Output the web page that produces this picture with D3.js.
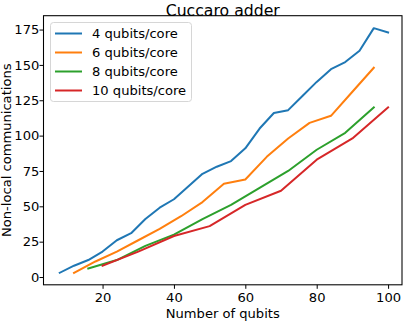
<!DOCTYPE html>
<html>
<head>
<meta charset="utf-8">
<script src="https://cdn.jsdelivr.net/npm/d3@7"></script>
<style>
  body { margin: 0; background: #fff; }
  svg { display: block; font-family: "DejaVu Sans", sans-serif; }
</style>
</head>
<body>
<svg id="chart" width="407" height="323"></svg>
<script>
// data
var q4x = [8, 12, 16, 20, 24, 28, 32, 36, 40, 44, 48, 52, 56, 60, 64, 68, 72, 76, 80, 84, 88, 92, 96, 100];
var q4y = [3, 8, 12, 18, 26, 31, 41, 49, 55, 64, 73, 78, 82, 91, 105, 116, 118, 128, 138, 147, 152, 160, 176, 173];
var q6x = [12, 18, 24, 30, 36, 42, 48, 54, 60, 66, 72, 78, 84, 90, 96];
var q6y = [3, 11, 18, 26, 34, 43, 53, 66, 69, 85, 98, 109, 114, 131, 148];
var q8x = [16, 24, 32, 40, 48, 56, 64, 72, 80, 88, 96];
var q8y = [6, 12, 22, 30, 41, 51, 63, 75, 90, 102, 120];
var q10x = [20, 30, 40, 50, 60, 70, 80, 90, 100];
var q10y = [8, 18, 29, 36, 51, 61, 83, 98, 120];

var seriesNames = ["4 qubits/core", "6 qubits/core", "8 qubits/core", "10 qubits/core"];
var colors = ["#1f77b4", "#ff7f0e", "#2ca02c", "#d62728"];
var xTicks = [20, 40, 60, 80, 100];
var yTicks = [0, 25, 50, 75, 100, 125, 150, 175];

var series = [
    {name: seriesNames[0], xs: q4x, ys: q4y},
    {name: seriesNames[1], xs: q6x, ys: q6y},
    {name: seriesNames[2], xs: q8x, ys: q8y},
    {name: seriesNames[3], xs: q10x, ys: q10y}
];

var svg = d3.select("#chart");

// plot area (don't call these top/left, window.top is taken)
var axL = 43.5, axR = 402, axT = 15.7, axB = 284.8;

var x = d3.scaleLinear().domain([3.45, 103.9]).range([axL, axR]);
var y = d3.scaleLinear().domain([-5.5, 184.8]).range([axB, axT]);

// axes
var xAxis = d3.axisBottom(x).tickValues(xTicks).tickSize(4).tickPadding(4.4);
var yAxis = d3.axisLeft(y).tickValues(yTicks).tickSize(4).tickPadding(0.2);

var gx = svg.append("g")
    .attr("transform", "translate(0," + axB + ")")
    .call(xAxis);
var gy = svg.append("g")
    .attr("transform", "translate(" + axL + ",0)")
    .call(yAxis);

[gx, gy].forEach(function(g) {
    g.select(".domain").remove();
    g.selectAll(".tick line").attr("stroke", "#000").attr("stroke-width", 1);
    g.selectAll(".tick text")
        .attr("fill", "#000")
        .style("font-size", "13.1px")
        .style("font-family", "DejaVu Sans");
});

// lines
var line = d3.line()
    .x(function(d) { return x(d[0]); })
    .y(function(d) { return y(d[1]); });

series.forEach(function(s, i) {
    var pts = s.xs.map(function(v, j) { return [v, s.ys[j]]; });
    svg.append("path")
        .datum(pts)
        .attr("d", line)
        .attr("fill", "none")
        .attr("stroke", colors[i])
        .attr("stroke-width", 2)
        .attr("stroke-linejoin", "round")
        .attr("stroke-linecap", "square");
});

// frame
svg.append("rect")
    .attr("x", axL)
    .attr("y", axT)
    .attr("width", axR - axL)
    .attr("height", axB - axT)
    .attr("fill", "none")
    .attr("stroke", "#000")
    .attr("stroke-width", 1.07);

// title + axis labels
svg.append("text")
    .attr("x", (axL + axR) / 2)
    .attr("y", 15.5)
    .attr("text-anchor", "middle")
    .style("font-size", "15.7px")
    .text("Cuccaro adder");

svg.append("text")
    .attr("x", (axL + axR) / 2)
    .attr("y", 318)
    .attr("text-anchor", "middle")
    .style("font-size", "13.1px")
    .text("Number of qubits");

svg.append("text")
    .attr("transform", "translate(11," + ((axT + axB) / 2) + ") rotate(-90)")
    .attr("text-anchor", "middle")
    .style("font-size", "13.1px")
    .text("Non-local communications");

// legend
var legend = svg.append("g");
legend.append("rect")
    .attr("x", 50.5)
    .attr("y", 22.5)
    .attr("width", 141)
    .attr("height", 79)
    .attr("rx", 3)
    .attr("fill", "#fff")
    .attr("fill-opacity", 0.8)
    .attr("stroke", "#d6d6d6")
    .attr("stroke-width", 1);

series.forEach(function(s, i) {
    var ly = 33.5 + i * 19;
    legend.append("line")
        .attr("x1", 55).attr("x2", 82)
        .attr("y1", ly).attr("y2", ly)
        .attr("stroke", colors[i])
        .attr("stroke-width", 2);
    legend.append("text")
        .attr("x", 92)
        .attr("y", ly + 4.7)
        .style("font-size", "13.1px")
        .text(s.name);
});
</script>
</body>
</html>
